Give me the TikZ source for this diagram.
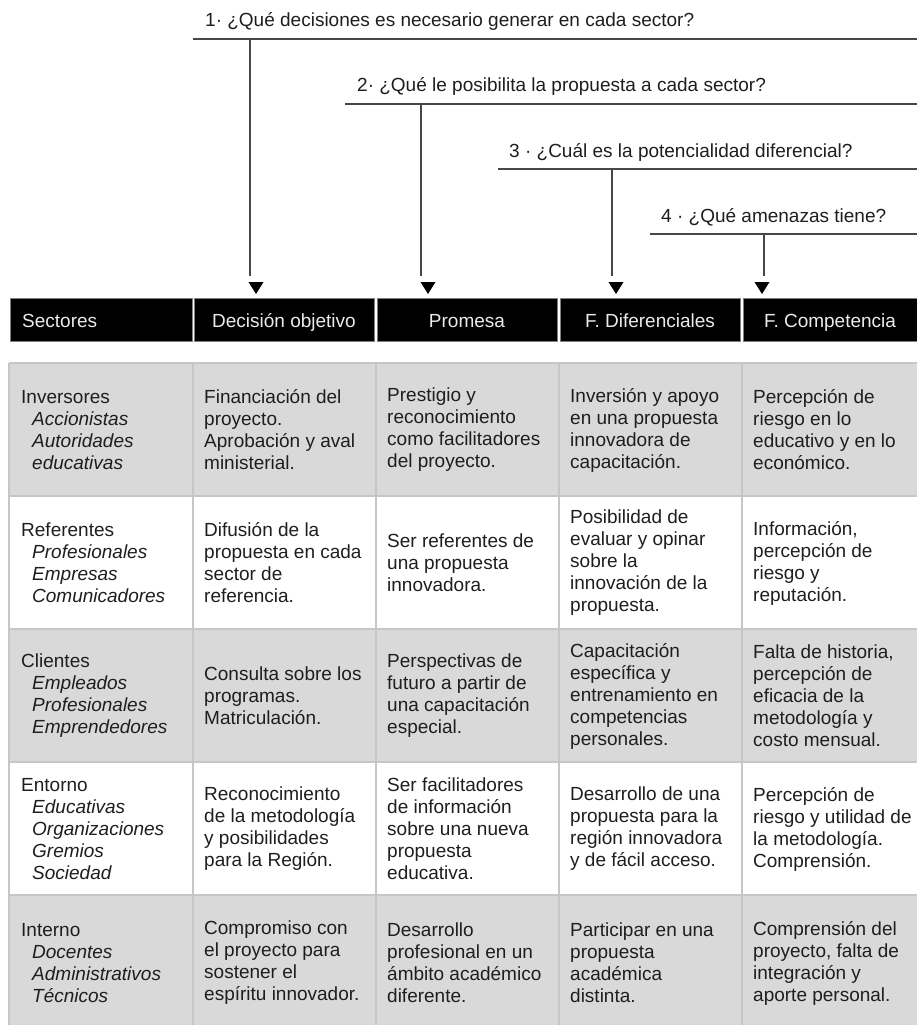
\documentclass[tikz,border=0pt]{standalone}
\usepackage{fontspec}
\setmainfont{Liberation Sans}
\definecolor{cellgray}{RGB}{217,217,217}
\definecolor{gridgray}{RGB}{198,198,198}
\definecolor{inkgray}{RGB}{30,30,30}
\begin{document}
\begin{tikzpicture}[x=1pt,y=-1pt,
  bodyfont/.style={font=\fontsize{19}{22}\selectfont},
  qtext/.style={bodyfont, anchor=base west, inner sep=0pt, text=inkgray},
  qline/.style={draw=black!72, line width=1.2pt},
  arrowtip/.style={fill=black},
  hdrcell/.style={fill=black, draw=black!50, line width=0.6pt},
  hdrtext/.style={bodyfont, inner sep=0pt, text=black!8},
  celltext/.style={bodyfont, anchor=west, inner sep=0pt, align=left, text=inkgray},
  gridline/.style={draw=gridgray, line width=1.5pt},
]
\useasboundingbox (0,0) rectangle (917,1025);

% ---- guiding questions and their drop lines ----
\node[qtext] (q1) at (205,27) {1· ¿Qué decisiones es necesario generar en cada sector?};
\node[qtext] (q2) at (357,92) {2· ¿Qué le posibilita la propuesta a cada sector?};
\node[qtext] (q3) at (509,157) {3 · ¿Cuál es la potencialidad diferencial?};
\node[qtext] (q4) at (661,222) {4 · ¿Qué amenazas tiene?};

\draw[qline] (193,39) -- (917,39);
\draw[qline] (345,104) -- (917,104);
\draw[qline] (498,169) -- (917,169);
\draw[qline] (650,234) -- (917,234);

\coordinate (l1) at (250,39);  \coordinate (e1) at (250,276);
\coordinate (l2) at (421,104); \coordinate (e2) at (421,276);
\coordinate (l3) at (612,169); \coordinate (e3) at (612,276);
\coordinate (l4) at (764,234); \coordinate (e4) at (764,276);
\draw[qline] (l1) -- (e1);
\draw[qline] (l2) -- (e2);
\draw[qline] (l3) -- (e3);
\draw[qline] (l4) -- (e4);

% arrowheads over the header
\foreach \ax in {256,428,616,762}
  \fill[arrowtip] (\ax-7.5,282) -- (\ax+7.5,282) -- (\ax,294) -- cycle;

% ---- header bar ----
\draw[hdrcell] (10,298) rectangle (192,341);
\draw[hdrcell] (194,298) rectangle (374,341);
\draw[hdrcell] (377,298) rectangle (557,341);
\draw[hdrcell] (560,298) rectangle (740,341);
\draw[hdrcell] (743,298) rectangle (918,341);

\node[hdrtext, anchor=base west] (h1) at (22,327) {Sectores};
\node[hdrtext, anchor=base] (h2) at (284,327) {Decisión objetivo};
\node[hdrtext, anchor=base] (h3) at (467,327) {Promesa};
\node[hdrtext, anchor=base] (h4) at (650,327) {F. Diferenciales};
\node[hdrtext, anchor=base] (h5) at (830,327) {F. Competencia};

% ---- table body ----
\fill[cellgray] (9,363) rectangle (918,496);
\fill[cellgray] (9,629) rectangle (918,762);
\fill[cellgray] (9,895) rectangle (918,1026);

\foreach \ry in {363,496,629,762,895}
  \draw[gridline] (9,\ry) -- (918,\ry);
\foreach \cx in {9,193,376,559,742}
  \draw[gridline] (\cx,363) -- (\cx,1026);

% row 1
\node[celltext] (c11) at (21,430) {Inversores\\\hspace*{11pt}\textit{Accionistas}\\\hspace*{11pt}\textit{Autoridades}\\\hspace*{11pt}\textit{educativas}};
\node[celltext] (c12) at (204,430) {Financiación del\\proyecto.\\Aprobación y aval\\ministerial.};
\node[celltext] (c13) at (387,430) {Prestigio y\\reconocimiento\\como facilitadores\\del proyecto.};
\node[celltext] (c14) at (570,430) {Inversión y apoyo\\en una propuesta\\innovadora de\\capacitación.};
\node[celltext] (c15) at (753,430) {Percepción de\\riesgo en lo\\educativo y en lo\\económico.};

% row 2
\node[celltext] (c21) at (21,563) {Referentes\\\hspace*{11pt}\textit{Profesionales}\\\hspace*{11pt}\textit{Empresas}\\\hspace*{11pt}\textit{Comunicadores}};
\node[celltext] (c22) at (204,563) {Difusión de la\\propuesta en cada\\sector de\\referencia.};
\node[celltext] (c23) at (387,563) {Ser referentes de\\una propuesta\\innovadora.};
\node[celltext] (c24) at (570,563) {Posibilidad de\\evaluar y opinar\\sobre la\\innovación de la\\propuesta.};
\node[celltext] (c25) at (753,563) {Información,\\percepción de\\riesgo y\\reputación.};

% row 3
\node[celltext] (c31) at (21,696) {Clientes\\\hspace*{11pt}\textit{Empleados}\\\hspace*{11pt}\textit{Profesionales}\\\hspace*{11pt}\textit{Emprendedores}};
\node[celltext] (c32) at (204,696) {Consulta sobre los\\programas.\\Matriculación.};
\node[celltext] (c33) at (387,696) {Perspectivas de\\futuro a partir de\\una capacitación\\especial.};
\node[celltext] (c34) at (570,696) {Capacitación\\específica y\\entrenamiento en\\competencias\\personales.};
\node[celltext] (c35) at (753,696) {Falta de historia,\\percepción de\\eficacia de la\\metodología y\\costo mensual.};

% row 4
\node[celltext] (c41) at (21,829) {Entorno\\\hspace*{11pt}\textit{Educativas}\\\hspace*{11pt}\textit{Organizaciones}\\\hspace*{11pt}\textit{Gremios}\\\hspace*{11pt}\textit{Sociedad}};
\node[celltext] (c42) at (204,829) {Reconocimiento\\de la metodología\\y posibilidades\\para la Región.};
\node[celltext] (c43) at (387,829) {Ser facilitadores\\de información\\sobre una nueva\\propuesta\\educativa.};
\node[celltext] (c44) at (570,829) {Desarrollo de una\\propuesta para la\\región innovadora\\y de fácil acceso.};
\node[celltext] (c45) at (753,829) {Percepción de\\riesgo y utilidad de\\la metodología.\\Comprensión.};

% row 5
\node[celltext] (c51) at (21,963) {Interno\\\hspace*{11pt}\textit{Docentes}\\\hspace*{11pt}\textit{Administrativos}\\\hspace*{11pt}\textit{Técnicos}};
\node[celltext] (c52) at (204,963) {Compromiso con\\el proyecto para\\sostener el\\espíritu innovador.};
\node[celltext] (c53) at (387,963) {Desarrollo\\profesional en un\\ámbito académico\\diferente.};
\node[celltext] (c54) at (570,963) {Participar en una\\propuesta\\académica\\distinta.};
\node[celltext] (c55) at (753,963) {Comprensión del\\proyecto, falta de\\integración y\\aporte personal.};
\end{tikzpicture}
\end{document}
